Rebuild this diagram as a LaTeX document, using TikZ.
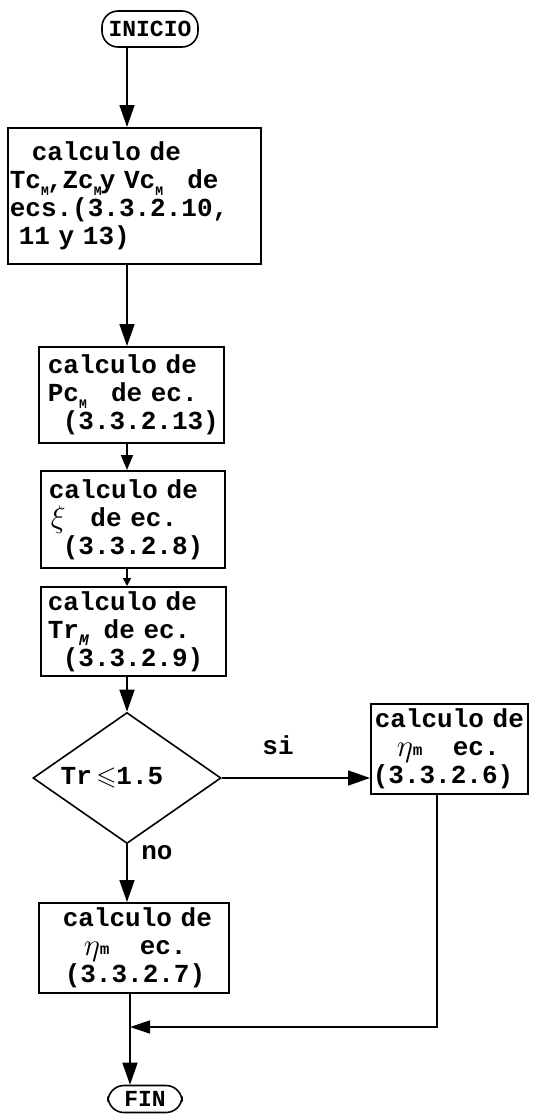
\documentclass[tikz,border=0pt]{standalone}
\usepackage{amssymb}
\usepackage{fontspec}
\setmonofont{Liberation Mono}
\usetikzlibrary{arrows.meta,shapes.geometric}
\newcommand\subM{\makebox[6pt][l]{\raisebox{-7pt}{\fontsize{13}{13}\selectfont M}}}
\newcommand\subMi{\makebox[16pt][l]{\raisebox{-7pt}{\fontsize{16}{16}\selectfont\itshape M}}}
\newcommand\etam{\makebox[30pt][l]{\raisebox{-1pt}{\scalebox{1.25}{$\eta$}}{\fontsize{16}{16}\selectfont m}}}
\begin{document}
\begin{tikzpicture}[x=1pt,y=-1pt,
  every node/.style={font=\ttfamily\bfseries\fontsize{26}{28}\selectfont},
  box/.style={draw, line width=1.6pt, rectangle, align=left, anchor=north west,
    inner xsep=2pt, inner ysep=0pt},
  term/.style={draw, line width=1.6pt, rectangle, rounded corners=16pt,
    font=\ttfamily\bfseries\fontsize{23}{23}\selectfont, inner sep=0pt},
  ln/.style={line width=1.5pt},
  bigarr/.style={ln, -{Triangle[length=22pt,width=15pt]}},
  midarr/.style={ln, -{Triangle[length=15pt,width=12pt]}},
  tinyarr/.style={ln, -{Triangle[length=8pt,width=8pt]}},
  lbl/.style={inner sep=0pt}]
\useasboundingbox (0,0) rectangle (535,1114);
\coordinate (col) at (127,0);
\coordinate (colb) at (130,0);
\coordinate (rcol) at (437,0);
\coordinate (join) at (130,1027);

\node[term, minimum width=96pt, minimum height=36pt] (ini) at (150,29) {INICIO};

\node[box, text width=249pt, minimum height=136pt] (b1) at (7,127)
  {\mbox{\hspace*{22pt}calculo de}\\
   \mbox{Tc\subM,Zc\subM y Vc\subM\ \ \ de}\\
   \mbox{ecs.(3.3.2.10,}\\
   \mbox{\hspace*{9pt}11 y 13)}};

\node[box, text width=181pt, minimum height=96pt] (b2) at (38,346)
  {\mbox{\hspace*{7pt}calculo de}\\
   \mbox{\hspace*{7pt}Pc\subM\ \ \ de ec.}\\
   \mbox{\hspace*{22pt}(3.3.2.13)}};

\node[box, text width=180pt, minimum height=97pt] (b3) at (40,470)
  {\mbox{\hspace*{6pt}calculo de}\\
   \mbox{\hspace*{8pt}\makebox[31pt][l]{\raisebox{-1pt}{\scalebox{1.25}{$\xi$}}} de ec.}\\
   \mbox{\hspace*{20pt}(3.3.2.8)}};

\node[box, text width=181pt, minimum height=89pt] (b4) at (40,586)
  {\mbox{\hspace*{5pt}calculo de}\\
   \mbox{\hspace*{5pt}Tr\subMi\ de ec.}\\
   \mbox{\hspace*{20pt}(3.3.2.9)}};

\node[draw, line width=1.6pt, diamond, minimum width=188pt, minimum height=131pt,
  inner sep=0pt] (dia) at (127,778) {};
\node[lbl] (cond) at (112,778) {Tr\,$\leqslant$1.5};

\node[box, text width=153pt, minimum height=90pt] (r) at (370,703)
  {\mbox{\hspace*{2pt}calculo de}\\
   \mbox{\hspace*{24pt}\etam\ \ \ ec.}\\
   \mbox{(3.3.2.6)}};

\node[box, text width=186pt, minimum height=90pt] (b5) at (38,902)
  {\mbox{\hspace*{22pt}calculo de}\\
   \mbox{\hspace*{43pt}\etam\ \ \ ec.}\\
   \mbox{\hspace*{24pt}(3.3.2.7)}};

\node[term, minimum width=74pt, minimum height=27pt] (fin) at (145,1099) {FIN};

\node[lbl] (si) at (278,745) {si};
\node[lbl] (no) at (157,853) {no};

\draw[bigarr] (ini.south -| col) -- (b1.north -| col);
\draw[bigarr] (b1.south -| col) -- (b2.north -| col);
\draw[midarr] (b2.south -| col) -- (b3.north -| col);
\draw[tinyarr] (b3.south -| col) -- (b4.north -| col);
\draw[bigarr] (b4.south -| col) -- (dia.north);
\draw[bigarr] (dia.east) -- (dia.east -| r.west);
\draw[bigarr] (dia.south) -- (b5.north -| col);
\draw[ln] (b5.south -| colb) -- (join);
\draw[bigarr] (join) -- (fin.north -| colb);
\draw[ln, -{Triangle[length=20pt,width=13pt]}] (r.south -| rcol) |- (join);
\end{tikzpicture}
\end{document}
